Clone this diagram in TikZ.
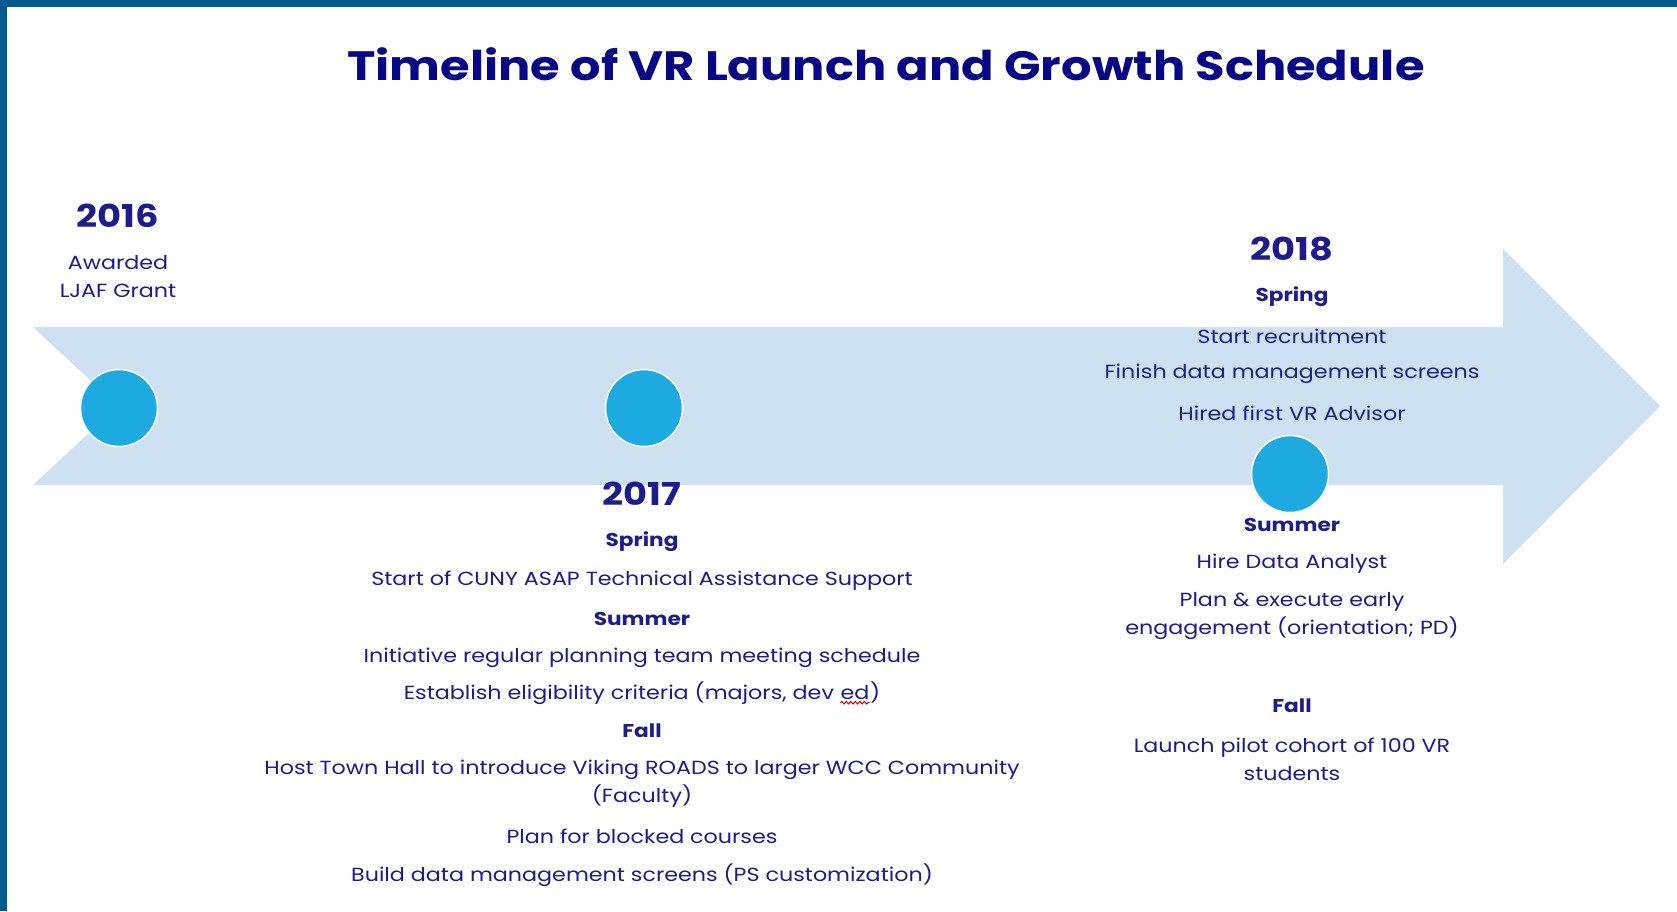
\documentclass[tikz,border=0pt]{standalone}
\usepackage{fontspec}
\setmainfont[FakeStretch=1.17]{Poppins}
\usetikzlibrary{decorations.pathmorphing}
\definecolor{frameblue}{RGB}{0,90,140}
\definecolor{bandblue}{RGB}{205,225,242}
\definecolor{dotblue}{RGB}{28,170,225}
\definecolor{inknavy}{RGB}{28,28,140}
\definecolor{titlenavy}{RGB}{8,8,135}
% red squiggle under a word
\newcommand{\squig}[1]{\tikz[baseline=(w.base)]{\node[inner sep=0pt,text=inknavy] (w) {#1};
  \draw[red!85!black,line width=1pt,decorate,decoration={snake,amplitude=1.3pt,segment length=4.5pt}]
    ([yshift=-3pt]w.south west) -- ([yshift=-3pt]w.south east);}}
\tikzset{
  yearlbl/.style={text=inknavy,font=\fontsize{31.5}{36}\selectfont\bfseries,inner sep=0pt},
  season/.style={text=inknavy,font=\fontsize{18.5}{24}\selectfont\bfseries,inner sep=0pt},
  entry/.style={text=inknavy,font=\fontsize{19}{28}\selectfont,inner sep=0pt,align=center},
  milestone/.style={circle,fill=dotblue,draw=white,line width=1.5pt,minimum size=77pt,inner sep=0pt}
}

\begin{document}
\begin{tikzpicture}[x=1pt,y=-1pt]
  \useasboundingbox (0,0) rectangle (1677,911);
  \fill[white] (0,0) rectangle (1677,911);
  \fill[frameblue] (0,0) rectangle (1677,7);
  \fill[frameblue] (0,0) rectangle (7,911);

  \node[text=titlenavy,font=\fontsize{41}{46}\selectfont\bfseries] (title) at (886,64)
       {Timeline of VR Launch and Growth Schedule};

  % the band with its notched tail and head
  \fill[bandblue] (33,327) -- (1503,327) -- (1503,249) -- (1660,406) -- (1503,564)
        -- (1503,485) -- (33,485) -- (118,406) -- cycle;

  \node[milestone] (m16) at (119,408) {};
  \node[milestone] (m17) at (644,408) {};
  \node[milestone] (m18) at (1290,474) {};

  % 2016
  \node[yearlbl] (y16) at (118,216) {2016};
  \node[entry] (awd) at (118,277) {Awarded\\LJAF Grant};

  % 2017
  \node[yearlbl] (y17) at (642,494) {2017};
  \node[season] (spr17) at (642,542) {Spring};
  \node[entry] (cuny) at (642,581) {Start of CUNY ASAP Technical Assistance Support};
  \node[season] (sum17) at (642,619) {Summer};
  \node[entry] (meet) at (642,658) {Initiative regular planning team meeting schedule};
  \node[entry] (elig) at (642,693) {Establish eligibility criteria (majors, dev \squig{ed})};
  \node[season] (fal17) at (642,731) {Fall};
  \node[entry] (town) at (642,784) {Host Town Hall to introduce Viking ROADS to larger WCC Community\\(Faculty)};
  \node[entry] (block) at (642,836) {Plan for blocked courses};
  \node[entry] (build) at (642,875) {Build data management screens (PS customization)};

  % 2018
  \node[yearlbl] (y18) at (1292,249) {2018};
  \node[season] (spr18) at (1292,297) {Spring};
  \node[entry] (recr) at (1292,336) {Start recruitment};
  \node[entry] (fini) at (1292,374) {Finish data management screens};
  \node[entry] (advr) at (1292,413) {Hired first VR Advisor};
  \node[season] (sum18) at (1292,525) {Summer};
  \node[entry] (anly) at (1292,564) {Hire Data Analyst};
  \node[entry] (engg) at (1292,616) {Plan \& execute early\\engagement (orientation; PD)};
  \node[season] (fal18) at (1292,706) {Fall};
  \node[entry] (pilot) at (1292,759) {Launch pilot cohort of 100 VR\\students};
\end{tikzpicture}
\end{document}
